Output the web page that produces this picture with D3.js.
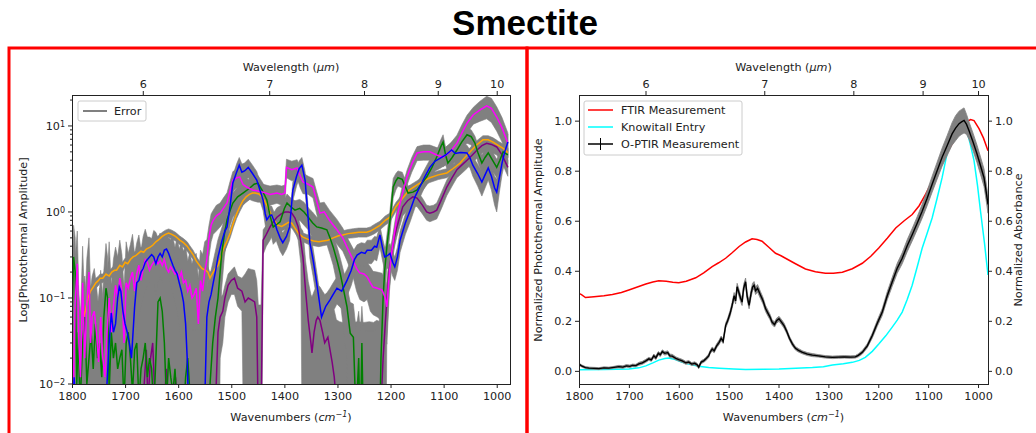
<!DOCTYPE html>
<html>
<head>
<meta charset="utf-8">
<script src="https://cdn.jsdelivr.net/npm/d3@7"></script>
<style>
  body { margin: 0; background: #fff; }
  svg text { font-family: "DejaVu Sans", sans-serif; fill: #222; }
  .tick text { font-size: 11.2px; }
</style>
</head>
<body>
<svg id="chart" width="1036" height="433"></svg>
<script>
/*******************************************************************************************/
// Data

var wnTicks = [1800, 1700, 1600, 1500, 1400, 1300, 1200, 1100, 1000];
var wlTicks = [6, 7, 8, 9, 10];
var logMajor = [0.01, 0.1, 1, 10];
var linTicks = [0, 0.2, 0.4, 0.6, 0.8, 1.0];

// left panel: [wavenumber, amplitude, error]
var magenta = [[1800,0.02,0.05],[1797,0.01,0.04],[1794,0.09,0.2],[1790,0.25,0.35],[1787,0.03,0.08],[1784,0.012,0.05],[1780,0.15,0.25],[1776,0.02,0.06],[1772,0.09,0.2],[1768,0.2,0.3],[1765,0.03,0.1],[1762,0.06,0.12],[1758,0.07,0.15],[1754,0.04,0.1],[1750,0.018,0.06],[1746,0.06,0.15],[1742,0.02,0.08],[1738,0.012,0.05],[1734,0.04,0.12],[1730,0.1,0.35],[1726,0.04,0.1],[1722,0.08,0.2],[1718,0.14,0.25],[1714,0.1,0.2],[1710,0.17,0.3],[1706,0.12,0.2],[1702,0.03,0.1],[1698,0.15,0.3],[1694,0.13,0.2],[1690,0.17,0.25],[1686,0.2,0.35],[1682,0.12,0.2],[1678,0.19,0.25],[1674,0.24,0.3],[1670,0.16,0.2],[1666,0.22,0.3],[1662,0.28,0.35],[1658,0.26,0.25],[1654,0.21,0.3],[1650,0.24,0.25],[1646,0.26,0.35],[1642,0.28,0.3],[1638,0.25,0.25],[1634,0.27,0.3],[1630,0.24,0.25],[1626,0.28,0.3],[1622,0.22,0.25],[1618,0.2,0.3],[1614,0.23,0.25],[1610,0.21,0.3],[1606,0.19,0.2],[1602,0.2,0.3],[1598,0.17,0.2],[1594,0.2,0.25],[1590,0.15,0.2],[1586,0.16,0.25],[1582,0.12,0.15],[1578,0.14,0.2],[1574,0.1,0.15],[1570,0.11,0.2],[1566,0.13,0.2],[1562,0.05,0.12],[1558,0.16,0.2],[1554,0.12,0.2],[1550,0.2,0.25],[1546,0.28,0.2],[1542,0.5,0.2],[1538,0.7,0.25],[1534,0.8,0.25],[1528,0.9,0.3],[1521,0.97,0.3],[1515,1.1,0.35],[1508,1.27,0.4],[1502,1.8,0.5],[1497,2.35,0.6],[1490,2.5,0.6],[1484,2.55,0.6],[1478,2.1,0.5],[1471,1.95,0.5],[1460,1.8,0.45],[1450,1.75,0.45],[1440,1.7,0.4],[1427,1.6,0.4],[1414,1.66,0.4],[1405,1.6,0.4],[1399,1.66,0.4],[1396,3.3,0.8],[1386,3.1,0.8],[1376,3.25,0.8],[1370,2.6,0.7],[1365,2.23,0.6],[1355,2.1,0.5],[1346,1.95,0.5],[1340,1.4,0.4],[1333,0.97,0.3],[1325,1.0,0.3],[1315,0.8,0.25],[1301,0.62,0.2],[1290,0.5,0.15],[1282,0.39,0.12],[1271,0.28,0.1],[1264,0.22,0.1],[1258,0.196,0.1],[1250,0.19,0.1],[1244,0.176,0.08],[1238,0.15,0.08],[1233,0.134,0.07],[1225,0.13,0.07],[1216,0.124,0.07],[1210,0.1,0.06],[1207,0.079,0.05],[1202,0.2,0.08],[1198,0.33,0.1],[1193,0.55,0.15],[1188,0.87,0.2],[1178,1.6,0.35],[1169,2.55,0.5],[1160,3.6,0.7],[1150,4.85,0.9],[1138,5.0,1.0],[1126,5.0,1.0],[1113,4.6,1.0],[1101,4.35,1.0],[1088,5.0,1.2],[1075,6.3,1.5],[1066,8.2,2],[1056,10.8,2.5],[1044,13.5,3],[1032,15.3,4],[1019,17.1,5],[1010,16,5],[1000,12.7,4],[990,9.5,3],[979,6.3,2]];

var green = [[1800,0.05,0.1],[1797,0.3,0.4],[1794,0.2,0.3],[1791,0.01,0.05],[1788,0.04,0.1],[1785,0.005,0.05],[1780,0.03,0.08],[1776,0.06,0.12],[1772,0.01,0.05],[1768,0.02,0.08],[1764,0.04,0.1],[1760,0.015,0.05],[1756,0.05,0.1],[1752,0.02,0.06],[1748,0.03,0.1],[1744,0.012,0.05],[1740,0.06,0.15],[1736,0.13,0.3],[1733,0.1,0.2],[1730,0.008,0.05],[1726,0.04,0.1],[1722,0.02,0.06],[1718,0.03,0.1],[1714,0.015,0.05],[1710,0.02,0.08],[1706,0.025,0.08],[1702,0.006,0.04],[1698,0.03,0.1],[1694,0.04,0.12],[1690,0.02,0.06],[1686,0.008,0.04],[1682,0.025,0.08],[1678,0.03,0.1],[1674,0.006,0.04],[1670,0.015,0.06],[1666,0.02,0.08],[1662,0.03,0.1],[1658,0.012,0.05],[1654,0.02,0.08],[1650,0.015,0.06],[1646,0.005,0.04],[1642,0.02,0.08],[1638,0.09,0.15],[1634,0.1,0.15],[1630,0.07,0.12],[1626,0.03,0.08],[1622,0.006,0.04],[1618,0.02,0.06],[1614,0.012,0.05],[1610,0.008,0.04],[1606,0.015,0.05],[1602,0.005,0.03],[1598,0.01,0.04],[1594,0.006,0.03],[1590,0.004,0.03],[1586,0.012,0.04],[1582,0.02,0.05],[1578,0.008,0.03],[1574,0.003,0.03],[1570,0.005,0.03],[1566,0.002,0.03],[1560,0.003,0.03],[1555,0.002,0.03],[1550,0.003,0.04],[1545,0.004,0.05],[1540,0.01,0.06],[1535,0.03,0.08],[1530,0.06,0.1],[1525,0.1,0.12],[1521,0.2,0.15],[1518,0.33,0.2],[1513,0.55,0.25],[1508,0.81,0.3],[1502,1.05,0.35],[1497,1.27,0.4],[1488,1.5,0.45],[1478,1.66,0.45],[1465,1.9,0.5],[1457,2.1,0.5],[1450,2.17,0.5],[1442,1.8,0.45],[1433,1.38,0.4],[1427,0.9,0.3],[1421,0.67,0.25],[1414,0.72,0.25],[1408,0.77,0.25],[1400,1.1,0.3],[1395,1.27,0.35],[1388,1.15,0.3],[1380,1.05,0.3],[1371,1.1,0.3],[1363,1.0,0.3],[1355,0.87,0.25],[1347,0.75,0.25],[1339,0.67,0.2],[1330,0.65,0.2],[1320,0.62,0.2],[1314,0.5,0.18],[1308,0.39,0.15],[1300,0.26,0.12],[1295,0.196,0.1],[1288,0.12,0.08],[1282,0.079,0.06],[1276,0.039,0.05],[1270,0.035,0.05],[1265,0.004,0.04],[1260,0.02,0.05],[1257,0.002,0.04],[1254,0.03,0.05],[1251,0.003,0.04],[1245,0.001,0.04],[1230,0.001,0.04],[1222,0.001,0.05],[1218,0.02,0.06],[1214,0.1,0.1],[1211,0.21,0.12],[1206,0.45,0.15],[1201,0.81,0.25],[1195,1.95,0.5],[1190,2.3,0.5],[1186,2.5,0.5],[1178,2.4,0.5],[1167,1.66,0.35],[1158,1.7,0.35],[1150,1.8,0.4],[1140,2.2,0.45],[1132,2.55,0.5],[1122,3.3,0.7],[1113,4.35,0.9],[1105,5.8,1.2],[1101,6.5,1.4],[1096,4.5,1],[1092,3.7,0.8],[1084,4.3,0.9],[1075,5.25,1.1],[1066,6.5,1.3],[1056,7.9,1.6],[1048,7.5,1.5],[1041,6.3,1.3],[1035,4.8,1.1],[1028,3.7,0.9],[1022,4.3,1],[1016,4.85,1.1],[1008,4.0,1],[1000,3.3,0.8],[994,4.0,0.9],[988,5.0,1.1],[979,4.6,1]];

var purple = [[1800,0.002,0.03],[1790,0.003,0.03],[1780,0.002,0.03],[1770,0.004,0.03],[1760,0.002,0.03],[1750,0.003,0.03],[1740,0.002,0.03],[1730,0.003,0.03],[1720,0.002,0.03],[1712,0.004,0.03],[1706,0.002,0.03],[1700,0.003,0.03],[1690,0.002,0.03],[1680,0.003,0.03],[1670,0.002,0.03],[1664,0.01,0.04],[1660,0.025,0.05],[1657,0.006,0.04],[1652,0.02,0.05],[1648,0.03,0.06],[1645,0.01,0.04],[1640,0.004,0.03],[1630,0.003,0.03],[1622,0.015,0.04],[1618,0.005,0.03],[1612,0.003,0.03],[1605,0.012,0.04],[1600,0.004,0.03],[1594,0.002,0.03],[1585,0.003,0.03],[1576,0.002,0.03],[1566,0.008,0.03],[1562,0.002,0.03],[1550,0.003,0.03],[1540,0.002,0.03],[1530,0.005,0.04],[1525,0.04,0.05],[1521,0.06,0.04],[1516,0.07,0.04],[1512,0.1,0.04],[1506,0.14,0.05],[1500,0.16,0.05],[1494,0.17,0.06],[1488,0.13,0.05],[1480,0.12,0.05],[1474,0.09,0.1],[1468,0.1,0.12],[1462,0.095,0.12],[1456,0.09,0.12],[1452,0.06,0.1],[1449,0.003,0.08],[1444,0.003,0.08],[1440,0.47,0.15],[1434,0.55,0.15],[1427,0.67,0.2],[1420,0.78,0.2],[1414,0.87,0.25],[1406,0.95,0.25],[1399,1.0,0.3],[1392,1.0,0.3],[1386,0.97,0.3],[1380,0.85,0.25],[1374,0.67,0.2],[1369,0.45,0.2],[1365,0.3,0.3],[1360,0.12,0.15],[1355,0.055,0.1],[1350,0.03,0.08],[1348,0.023,0.08],[1344,0.04,0.08],[1340,0.055,0.08],[1337,0.06,0.08],[1333,0.055,0.08],[1328,0.04,0.08],[1324,0.03,0.08],[1318,0.035,0.08],[1314,0.025,0.07],[1310,0.018,0.06],[1306,0.012,0.06],[1302,0.006,0.05],[1296,0.003,0.05],[1290,0.002,0.05],[1280,0.004,0.05],[1270,0.002,0.05],[1262,0.003,0.05],[1250,0.002,0.05],[1240,0.003,0.05],[1232,0.002,0.05],[1226,0.005,0.05],[1220,0.003,0.05],[1214,0.02,0.05],[1210,0.05,0.05],[1207,0.095,0.06],[1203,0.2,0.08],[1198,0.33,0.1],[1193,0.5,0.12],[1188,0.67,0.15],[1182,0.9,0.2],[1177,1.15,0.25],[1168,1.35,0.3],[1158,1.5,0.3],[1150,1.45,0.3],[1140,1.2,0.25],[1132,1.0,0.2],[1126,0.97,0.2],[1119,1.0,0.2],[1113,1.05,0.22],[1104,1.4,0.3],[1094,1.95,0.4],[1084,2.5,0.5],[1075,3.1,0.6],[1066,3.5,0.7],[1056,4.0,0.8],[1046,4.6,0.9],[1037,5.25,1],[1028,5.9,1.1],[1019,6.3,1.2],[1010,6.1,1.2],[1000,5.7,1.1],[990,4.6,0.9],[979,3.3,0.7]];

var blue = [[1800,0.003,0.03],[1796,0.012,0.04],[1792,0.004,0.03],[1788,0.002,0.03],[1780,0.003,0.03],[1770,0.002,0.03],[1762,0.005,0.03],[1756,0.008,0.04],[1752,0.003,0.03],[1745,0.002,0.03],[1736,0.006,0.04],[1730,0.03,0.06],[1726,0.067,0.08],[1722,0.04,0.06],[1718,0.05,0.08],[1714,0.1,0.1],[1711,0.134,0.12],[1708,0.12,0.1],[1704,0.07,0.08],[1700,0.05,0.07],[1696,0.04,0.06],[1692,0.03,0.05],[1688,0.02,0.05],[1685,0.04,0.06],[1682,0.08,0.08],[1678,0.15,0.1],[1674,0.16,0.1],[1670,0.2,0.12],[1666,0.22,0.12],[1662,0.26,0.14],[1658,0.28,0.14],[1654,0.3,0.15],[1650,0.32,0.15],[1646,0.3,0.15],[1642,0.25,0.14],[1638,0.3,0.15],[1634,0.33,0.15],[1630,0.3,0.15],[1626,0.36,0.16],[1622,0.37,0.16],[1618,0.33,0.15],[1614,0.28,0.14],[1610,0.24,0.13],[1606,0.21,0.12],[1602,0.19,0.12],[1598,0.15,0.1],[1594,0.12,0.1],[1590,0.09,0.08],[1586,0.05,0.07],[1583,0.02,0.05],[1580,0.004,0.04],[1570,0.002,0.04],[1560,0.003,0.04],[1555,0.002,0.04],[1550,0.006,0.05],[1546,0.06,0.07],[1542,0.09,0.09],[1538,0.11,0.1],[1534,0.15,0.12],[1530,0.2,0.15],[1525,0.3,0.18],[1518,0.45,0.2],[1512,0.6,0.25],[1508,0.67,0.25],[1502,1.2,0.35],[1497,2.17,0.5],[1490,2.9,0.7],[1485,3.5,0.8],[1480,2.9,0.7],[1475,3.0,0.7],[1468,3.3,0.8],[1460,2.8,0.7],[1452,2.35,0.6],[1446,1.8,0.45],[1440,1.38,0.35],[1436,0.95,0.25],[1433,0.81,0.22],[1428,0.9,0.25],[1424,0.92,0.25],[1418,0.75,0.2],[1414,0.62,0.18],[1408,0.5,0.15],[1403,0.44,0.13],[1396,0.52,0.15],[1390,0.67,0.2],[1384,1.8,0.45],[1377,2.6,0.6],[1372,3.2,0.75],[1367,3.5,0.8],[1361,2.35,0.6],[1356,1.0,0.3],[1352,0.44,0.15],[1346,0.28,0.1],[1342,0.196,0.07],[1336,0.11,0.04],[1330,0.06,0.025],[1322,0.08,0.03],[1314,0.095,0.035],[1308,0.11,0.04],[1301,0.13,0.045],[1292,0.12,0.045],[1282,0.16,0.055],[1274,0.21,0.07],[1268,0.28,0.09],[1263,0.316,0.1],[1255,0.34,0.1],[1248,0.33,0.1],[1244,0.36,0.11],[1236,0.36,0.11],[1230,0.4,0.12],[1226,0.39,0.12],[1220,0.54,0.15],[1215,0.38,0.11],[1211,0.3,0.09],[1206,0.31,0.09],[1201,0.33,0.1],[1196,0.26,0.08],[1192,0.23,0.07],[1187,0.3,0.09],[1182,0.47,0.13],[1172,0.75,0.2],[1163,1.05,0.28],[1154,1.5,0.38],[1145,1.95,0.5],[1135,2.6,0.6],[1126,3.3,0.75],[1116,3.9,0.9],[1107,4.2,1],[1096,4.6,1.05],[1085,5.25,1.2],[1078,4.8,1.1],[1068,4.9,1.1],[1056,4.85,1.1],[1050,4.2,1],[1045,3.5,0.9],[1036,2.8,0.8],[1028,2.23,0.7],[1022,2.7,0.8],[1016,3.25,0.9],[1010,2.6,0.8],[1004,1.9,0.7],[1000,1.7,0.7],[995,2.5,0.8],[990,3.7,1],[985,5.0,1.2],[979,6.5,1.5]];

var orange = [[1778,0.06,0.01],[1775,0.07,0.01],[1770,0.1,0.015],[1765,0.12,0.015],[1760,0.134,0.018],[1755,0.15,0.02],[1750,0.16,0.02],[1747,0.17,0.02],[1742,0.17,0.02],[1736,0.19,0.025],[1730,0.18,0.025],[1725,0.2,0.025],[1720,0.21,0.025],[1716,0.21,0.025],[1710,0.24,0.03],[1705,0.23,0.03],[1700,0.26,0.03],[1695,0.25,0.03],[1690,0.28,0.035],[1685,0.3,0.035],[1680,0.31,0.04],[1675,0.33,0.04],[1670,0.35,0.04],[1665,0.34,0.04],[1660,0.37,0.045],[1653,0.39,0.045],[1648,0.41,0.05],[1642,0.45,0.05],[1636,0.48,0.055],[1630,0.52,0.06],[1624,0.55,0.065],[1618,0.57,0.065],[1612,0.55,0.065],[1605,0.52,0.06],[1597,0.47,0.055],[1590,0.44,0.05],[1583,0.4,0.05],[1578,0.36,0.045],[1572,0.32,0.04],[1566,0.27,0.035],[1560,0.24,0.03],[1555,0.22,0.03],[1548,0.21,0.03],[1544,0.2,0.03],[1540,0.17,0.025],[1536,0.19,0.025],[1530,0.22,0.03],[1525,0.24,0.03],[1521,0.28,0.035],[1515,0.37,0.045],[1508,0.46,0.055],[1502,0.57,0.07],[1496,0.75,0.09],[1490,0.95,0.11],[1484,1.15,0.14],[1478,1.35,0.16],[1472,1.5,0.18],[1466,1.6,0.19],[1460,1.66,0.2],[1455,1.66,0.2],[1448,1.62,0.2],[1442,1.5,0.18],[1436,1.3,0.16],[1430,1.1,0.13],[1424,0.9,0.11],[1418,0.78,0.1],[1412,0.7,0.09],[1405,0.68,0.08],[1398,0.72,0.09],[1392,0.76,0.09],[1386,0.74,0.09],[1380,0.65,0.08],[1373,0.56,0.07],[1365,0.51,0.06],[1355,0.48,0.06],[1345,0.46,0.055],[1335,0.45,0.055],[1327,0.46,0.055],[1318,0.47,0.055],[1308,0.5,0.06],[1298,0.53,0.06],[1290,0.54,0.065],[1280,0.56,0.065],[1270,0.57,0.07],[1260,0.58,0.07],[1250,0.58,0.07],[1245,0.58,0.07],[1238,0.6,0.07],[1230,0.64,0.08],[1220,0.7,0.08],[1210,0.8,0.1],[1201,0.87,0.1],[1190,1.15,0.14],[1177,1.45,0.17],[1165,1.8,0.22],[1150,2.06,0.25],[1138,2.3,0.28],[1126,2.5,0.3],[1110,2.7,0.32],[1094,2.84,0.34],[1082,3.2,0.38],[1069,3.7,0.45],[1060,4.3,0.5],[1050,5.0,0.6],[1038,6.0,0.7],[1026,6.9,0.8],[1016,6.9,0.8],[1007,6.5,0.8],[998,6.0,0.7],[988,5.5,0.65],[979,4.9,0.6]];

// right panel: [wavenumber, normalized value] and O-PTIR [wavenumber, value, error]
var ftir = [[1800,0.309],[1795,0.305],[1787,0.293],[1770,0.296],[1750,0.300],[1733,0.305],[1715,0.313],[1700,0.323],[1683,0.335],[1666,0.347],[1652,0.355],[1640,0.360],[1625,0.358],[1612,0.354],[1600,0.352],[1585,0.358],[1566,0.372],[1550,0.392],[1533,0.417],[1520,0.432],[1506,0.450],[1493,0.472],[1479,0.497],[1466,0.515],[1453,0.528],[1443,0.525],[1433,0.518],[1420,0.495],[1406,0.470],[1395,0.460],[1386,0.450],[1366,0.428],[1346,0.407],[1326,0.396],[1306,0.390],[1290,0.390],[1272,0.394],[1252,0.408],[1232,0.430],[1215,0.458],[1199,0.491],[1182,0.530],[1165,0.571],[1148,0.600],[1132,0.625],[1118,0.660],[1105,0.706],[1092,0.757],[1079,0.813],[1065,0.862],[1052,0.907],[1042,0.943],[1032,0.974],[1023,0.995],[1015,1.004],[1008,1.0],[998,0.968],[989,0.93],[980,0.880]];

var knowitall = [[1800,0.004],[1750,0.005],[1700,0.007],[1680,0.012],[1666,0.02],[1652,0.032],[1640,0.043],[1628,0.049],[1620,0.051],[1607,0.045],[1593,0.034],[1576,0.025],[1560,0.018],[1540,0.013],[1519,0.010],[1490,0.007],[1466,0.005],[1430,0.006],[1399,0.007],[1365,0.01],[1332,0.013],[1310,0.016],[1292,0.023],[1270,0.028],[1252,0.034],[1238,0.042],[1226,0.054],[1212,0.078],[1199,0.107],[1185,0.14],[1172,0.175],[1162,0.203],[1152,0.235],[1142,0.285],[1132,0.342],[1122,0.415],[1112,0.490],[1102,0.55],[1092,0.611],[1082,0.69],[1072,0.772],[1064,0.85],[1055,0.934],[1048,0.975],[1042,1.004],[1032,1.004],[1025,0.98],[1016,0.91],[1008,0.84],[1001,0.74],[995,0.638],[987,0.51],[980,0.383]];

var optir = [[1800,0.027,0.004],[1795,0.02,0.004],[1787,0.013,0.004],[1780,0.011,0.004],[1770,0.01,0.004],[1760,0.009,0.004],[1750,0.012,0.004],[1740,0.011,0.004],[1730,0.014,0.004],[1720,0.017,0.005],[1712,0.015,0.005],[1705,0.02,0.005],[1698,0.018,0.005],[1693,0.022,0.005],[1686,0.021,0.005],[1680,0.028,0.006],[1673,0.032,0.006],[1666,0.04,0.006],[1660,0.048,0.006],[1655,0.044,0.006],[1650,0.06,0.007],[1646,0.052,0.007],[1641,0.07,0.007],[1637,0.064,0.007],[1633,0.077,0.007],[1628,0.07,0.007],[1622,0.073,0.007],[1618,0.06,0.007],[1613,0.059,0.007],[1606,0.05,0.006],[1600,0.045,0.006],[1593,0.04,0.006],[1586,0.032,0.006],[1580,0.035,0.006],[1574,0.027,0.006],[1568,0.03,0.006],[1563,0.024,0.006],[1560,0.015,0.006],[1555,0.035,0.006],[1550,0.04,0.006],[1546,0.047,0.007],[1540,0.06,0.007],[1537,0.075,0.007],[1533,0.087,0.008],[1529,0.08,0.008],[1524,0.1,0.008],[1519,0.114,0.009],[1515,0.13,0.009],[1511,0.118,0.009],[1506,0.181,0.01],[1502,0.2,0.01],[1497,0.23,0.012],[1493,0.262,0.012],[1489,0.3,0.013],[1486,0.28,0.013],[1483,0.336,0.014],[1479,0.31,0.014],[1476,0.29,0.014],[1473,0.275,0.014],[1470,0.33,0.015],[1466,0.356,0.015],[1463,0.3,0.015],[1459,0.262,0.014],[1455,0.31,0.015],[1452,0.335,0.015],[1449,0.342,0.015],[1446,0.32,0.015],[1442,0.33,0.015],[1436,0.302,0.014],[1431,0.28,0.013],[1426,0.249,0.012],[1421,0.23,0.012],[1417,0.215,0.011],[1413,0.195,0.01],[1408,0.185,0.01],[1404,0.2,0.01],[1399,0.208,0.01],[1394,0.195,0.01],[1389,0.181,0.01],[1384,0.16,0.009],[1378,0.13,0.008],[1372,0.107,0.008],[1366,0.09,0.007],[1360,0.082,0.007],[1352,0.074,0.006],[1342,0.067,0.006],[1332,0.063,0.006],[1320,0.06,0.005],[1306,0.056,0.005],[1292,0.054,0.005],[1280,0.055,0.005],[1268,0.056,0.005],[1256,0.055,0.005],[1246,0.056,0.005],[1240,0.062,0.006],[1232,0.074,0.007],[1222,0.1,0.008],[1212,0.141,0.01],[1202,0.19,0.012],[1192,0.235,0.014],[1182,0.3,0.016],[1172,0.356,0.018],[1162,0.41,0.02],[1152,0.450,0.022],[1142,0.5,0.024],[1132,0.544,0.025],[1122,0.59,0.026],[1112,0.638,0.028],[1102,0.69,0.03],[1092,0.746,0.032],[1082,0.8,0.034],[1072,0.854,0.036],[1062,0.9,0.04],[1052,0.947,0.045],[1045,0.97,0.05],[1038,0.988,0.05],[1033,0.995,0.05],[1028,1.001,0.05],[1023,0.985,0.04],[1018,0.96,0.035],[1010,0.915,0.035],[1002,0.867,0.035],[995,0.82,0.035],[988,0.772,0.035],[984,0.72,0.035],[980,0.665,0.035]];

/*******************************************************************************************/
// Layout

var svg = d3.select('#chart');
var L = { left: 72, right: 510, top: 95, bottom: 384 };
var R = { left: 579, right: 988, top: 95, bottom: 384 };
var FS = '11.2px', SUP = '8px';

var xL = d3.scaleLinear().domain([1800, 975]).range([L.left, L.right]);
var yL = d3.scaleLog().domain([0.01, 22.9]).range([L.bottom, L.top]);
var xR = d3.scaleLinear().domain([1800, 980]).range([R.left, R.right]);
var yR = d3.scaleLinear().domain([-0.0525, 1.1025]).range([R.bottom, R.top]);

var FLOOR = 1e-4;

// title + red frames
svg.append('text').attr('x', 525).attr('y', 35).attr('text-anchor', 'middle')
   .style('font-family', '"Liberation Sans", Arial, sans-serif').style('font-weight', 'bold')
   .style('font-size', '35px').style('fill', '#000').text('Smectite');

svg.append('rect').attr('x', 9).attr('y', 48).attr('width', 518).attr('height', 420)
   .style('fill', 'none').style('stroke', '#ff0000').style('stroke-width', 3);
svg.append('rect').attr('x', 527).attr('y', 48).attr('width', 530).attr('height', 420)
   .style('fill', 'none').style('stroke', '#ff0000').style('stroke-width', 3);

/*************************************************/

function clipFor(id, b){
  svg.append('clipPath').attr('id', id).append('rect')
     .attr('x', b.left).attr('y', b.top).attr('width', b.right - b.left).attr('height', b.bottom - b.top);
}

function styleAxis(g){
  g.select('.domain').remove();
  g.selectAll('.tick line').style('stroke', '#222');
  g.selectAll('.tick text').style('fill', '#222');
}

function wavenumberAxes(x, b){
  svg.append('g').attr('transform', 'translate(0,' + b.bottom + ')')
     .call(d3.axisBottom(x).tickValues(wnTicks).tickSize(4).tickPadding(4).tickFormat(d3.format('d')))
     .call(styleAxis);
  svg.append('g').attr('transform', 'translate(0,' + b.top + ')')
     .call(d3.axisTop(x).tickValues(wlTicks.map(function(w){ return 10000 / w; })).tickSize(4).tickPadding(3)
             .tickFormat(function(d){ return Math.round(10000 / d); }))
     .call(styleAxis);

  var cx = (b.left + b.right) / 2;
  var t = svg.append('text').attr('x', cx).attr('y', 421).attr('text-anchor', 'middle').style('font-size', FS);
  t.append('tspan').text('Wavenumbers (');
  t.append('tspan').style('font-style', 'italic').text('cm');
  t.append('tspan').style('font-style', 'italic').style('font-size', SUP).attr('dy', '-4').text('\u22121');
  t.append('tspan').attr('dy', '4').text(')');

  var w = svg.append('text').attr('x', cx).attr('y', 71).attr('text-anchor', 'middle').style('font-size', FS);
  w.append('tspan').text('Wavelength (');
  w.append('tspan').style('font-style', 'italic').text('\u03bcm');
  w.append('tspan').text(')');
}

function frame(b){
  svg.append('rect').attr('x', b.left).attr('y', b.top).attr('width', b.right - b.left).attr('height', b.bottom - b.top)
     .style('fill', 'none').style('stroke', '#222').style('stroke-width', 1).style('shape-rendering', 'crispEdges');
}

function yLabel(txt, x, y, rot){
  svg.append('text').attr('transform', 'translate(' + x + ',' + y + ') rotate(' + rot + ')')
     .attr('text-anchor', 'middle').style('font-size', FS).text(txt);
}

/*************************************************/
// Left panel (log amplitude)

clipFor('clipL', L);

var bandL = d3.area().x(function(d){ return xL(d[0]); })
  .y0(function(d){ return yL(Math.max(d[1] - d[2], FLOOR)); })
  .y1(function(d){ return yL(Math.max(d[1] + d[2], FLOOR)); });
var lineL = d3.line().x(function(d){ return xL(d[0]); }).y(function(d){ return yL(Math.max(d[1], FLOOR)); });

var leftSeries = [
  { data: orange, color: '#ffa500' },
  { data: purple, color: '#800080' },
  { data: green, color: '#008000' },
  { data: magenta, color: '#ff00ff' },
  { data: blue, color: '#0000ff' }
];

var gL = svg.append('g').attr('clip-path', 'url(#clipL)');
leftSeries.forEach(function(s){
  gL.append('path').attr('d', bandL(s.data)).style('fill', '#808080').style('stroke', '#808080').style('stroke-width', 0.6);
});
leftSeries.forEach(function(s){
  gL.append('path').attr('d', lineL(s.data)).style('fill', 'none').style('stroke', s.color).style('stroke-width', 1.5);
});

frame(L);
wavenumberAxes(xL, L);

// log y axis
var minorL = [];
logMajor.forEach(function(m){ for(var k = 2; k < 10; k++){ if(m * k < 22.9) minorL.push(m * k); } });
svg.append('g').selectAll('line.minor').data(minorL).enter().append('line')
   .attr('x1', L.left).attr('x2', L.left - 2).attr('y1', function(d){ return yL(d); }).attr('y2', function(d){ return yL(d); })
   .style('stroke', '#222');
var maj = svg.append('g').selectAll('g').data(logMajor).enter().append('g')
   .attr('transform', function(d){ return 'translate(' + L.left + ',' + yL(d) + ')'; });
maj.append('line').attr('x1', 0).attr('x2', -4).style('stroke', '#222');
var lab = maj.append('text').attr('x', -7).attr('dy', '0.4em').attr('text-anchor', 'end').style('font-size', FS);
lab.append('tspan').text('10');
lab.append('tspan').attr('dy', '-0.45em').style('font-size', SUP)
   .text(function(d){ var e = Math.round(Math.log10(d)); return e < 0 ? '\u2212' + (-e) : '' + e; });

yLabel('Log[Photothermal Amplitude]', 27, 240, -90);

// legend
var legL = svg.append('g').attr('transform', 'translate(78,101)');
legL.append('rect').attr('width', 68).attr('height', 20).attr('rx', 2)
    .style('fill', '#fff').style('fill-opacity', 0.8).style('stroke', '#ccc');
legL.append('line').attr('x1', 5).attr('x2', 29).attr('y1', 10).attr('y2', 10).style('stroke', '#808080').style('stroke-width', 2);
legL.append('text').attr('x', 36).attr('y', 14).style('font-size', FS).text('Error');

/*************************************************/
// Right panel (normalized)

clipFor('clipR', R);

var lineR = d3.line().x(function(d){ return xR(d[0]); }).y(function(d){ return yR(d[1]); });
var bandR = d3.area().x(function(d){ return xR(d[0]); })
  .y0(function(d){ return yR(d[1] - d[2]); }).y1(function(d){ return yR(d[1] + d[2]); });

var gR = svg.append('g').attr('clip-path', 'url(#clipR)');
gR.append('path').attr('d', lineR(ftir)).style('fill', 'none').style('stroke', '#ff0000').style('stroke-width', 1.5);
gR.append('path').attr('d', lineR(knowitall)).style('fill', 'none').style('stroke', '#00ffff').style('stroke-width', 1.5);
gR.append('path').attr('d', bandR(optir)).style('fill', '#808080').style('stroke', '#808080').style('stroke-width', 0.8);
gR.append('path').attr('d', lineR(optir)).style('fill', 'none').style('stroke', '#000').style('stroke-width', 1.4);

frame(R);
wavenumberAxes(xR, R);

svg.append('g').attr('transform', 'translate(' + R.left + ',0)')
   .call(d3.axisLeft(yR).tickValues(linTicks).tickSize(4).tickPadding(3).tickFormat(d3.format('.1f')))
   .call(styleAxis);
svg.append('g').attr('transform', 'translate(' + R.right + ',0)')
   .call(d3.axisRight(yR).tickValues(linTicks).tickSize(4).tickPadding(3).tickFormat(d3.format('.1f')))
   .call(styleAxis);

yLabel('Normalized Photothermal Amplitude', 542, 240, -90);
yLabel('Normalized Absorbance', 1022, 240, -90);

// legend
var legR = svg.append('g').attr('transform', 'translate(584,101)');
legR.append('rect').attr('width', 158).attr('height', 54).attr('rx', 2)
    .style('fill', '#fff').style('fill-opacity', 0.8).style('stroke', '#ccc');
var legItems = [
  { name: 'FTIR Measurement', color: '#ff0000', bar: false },
  { name: 'Knowitall Entry', color: '#00ffff', bar: false },
  { name: 'O-PTIR Measurement', color: '#000', bar: true }
];
legItems.forEach(function(it, i){
  var yy = 9 + i * 17;
  legR.append('line').attr('x1', 4).attr('x2', 29).attr('y1', yy).attr('y2', yy).style('stroke', it.color).style('stroke-width', 1.5);
  if(it.bar){ legR.append('line').attr('x1', 16.5).attr('x2', 16.5).attr('y1', yy - 6).attr('y2', yy + 6).style('stroke', it.color).style('stroke-width', 1); }
  legR.append('text').attr('x', 37).attr('y', yy + 4).style('font-size', FS).text(it.name);
});
</script>
</body>
</html>
